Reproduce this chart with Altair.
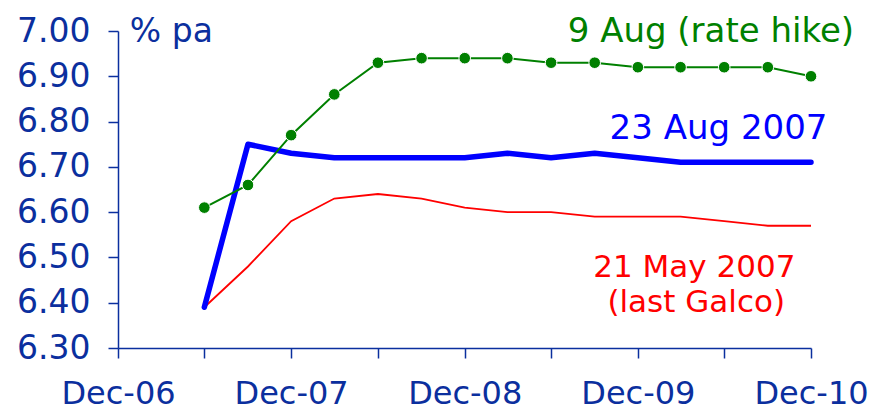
import altair as alt
import pandas as pd

# quarterly dates of the curves
dates = ["2007-06-01", "2007-09-01", "2007-12-01", "2008-03-01", "2008-06-01",
         "2008-09-01", "2008-12-01", "2009-03-01", "2009-06-01", "2009-09-01",
         "2009-12-01", "2010-03-01", "2010-06-01", "2010-09-01", "2010-12-01"]
aug9 = [6.61, 6.66, 6.77, 6.86, 6.93, 6.94, 6.94, 6.94, 6.93, 6.93, 6.92, 6.92, 6.92, 6.92, 6.90]
aug23 = [6.39, 6.75, 6.73, 6.72, 6.72, 6.72, 6.72, 6.73, 6.72, 6.73, 6.72, 6.71, 6.71, 6.71, 6.71]
may21 = [6.39, 6.48, 6.58, 6.63, 6.64, 6.63, 6.61, 6.60, 6.60, 6.59, 6.59, 6.59, 6.58, 6.57, 6.57]

tick_dates = ["2006-12-01", "2007-06-01", "2007-12-01", "2008-06-01", "2008-12-01",
              "2009-06-01", "2009-12-01", "2010-06-01", "2010-12-01"]
y_ticks = [6.3, 6.4, 6.5, 6.6, 6.7, 6.8, 6.9, 7.0]

NAVY = "#0b2f9e"
FONT = "DejaVu Sans"

df = pd.DataFrame({"date": dates, "aug9": aug9, "aug23": aug23, "may21": may21})
tick_ms = [int(pd.Timestamp(d, tz="UTC").value // 10**6) for d in tick_dates]

xscale = alt.Scale(type="utc", domain=["2006-12-01", "2010-12-01"])
yscale = alt.Scale(domain=[6.3, 7.0], zero=False, nice=False)

xaxis = alt.Axis(values=tick_ms, labelExpr="utcmonth(datum.value) == 11 ? utcFormat(datum.value, '%b-%y') : ''",
                 grid=False, domainColor=NAVY, domainWidth=1.5, tickColor=NAVY, tickWidth=1.5,
                 tickSize=10, labelColor=NAVY, labelFont=FONT, labelFontSize=32, labelPadding=20,
                 title=None, labelFlush=False, labelOverlap=False)
yaxis = alt.Axis(values=y_ticks, format=".2f", grid=False, domainColor=NAVY, domainWidth=1.5,
                 tickColor=NAVY, tickWidth=1.5, tickSize=10, labelColor=NAVY, labelFont=FONT,
                 labelFontSize=33, labelPadding=18, title=None, labelFlush=False)

base = alt.Chart(df)
red = base.mark_line(color="#ff0000", strokeWidth=1.8).encode(
    x=alt.X("date:T", scale=xscale, axis=xaxis), y=alt.Y("may21:Q", scale=yscale, axis=yaxis))
blue = base.mark_line(color="#0000ff", strokeWidth=5.5, strokeCap="round", strokeJoin="round").encode(
    x=alt.X("date:T", scale=xscale), y=alt.Y("aug23:Q", scale=yscale))
green = base.mark_line(color="#008000", strokeWidth=2,
                       point=alt.OverlayMarkDef(color="#008000", size=135, filled=True, opacity=1,
                                                stroke="white", strokeWidth=1)).encode(
    x=alt.X("date:T", scale=xscale), y=alt.Y("aug9:Q", scale=yscale))

labels = pd.DataFrame({
    "date": ["2006-12-26", "2010-05-04", "2010-05-20", "2010-03-30", "2010-04-03"],
    "y": [6.976, 6.976, 6.7615, 6.4568, 6.3795],
    "text": ["% pa", "9 Aug (rate hike)", "23 Aug 2007", "21 May 2007", "(last Galco)"],
    "color": [NAVY, "#008000", "#0000ff", "#ff0000", "#ff0000"],
    "size": [33, 34, 34, 31, 31],
    "align": ["left", "center", "center", "center", "center"],
})
txt_left = alt.Chart(labels[labels["align"] == "left"]).mark_text(
    font=FONT, align="left", baseline="alphabetic").encode(
    x=alt.X("date:T", scale=xscale), y=alt.Y("y:Q", scale=yscale),
    text="text:N", color=alt.Color("color:N", scale=None), size=alt.Size("size:Q", scale=None))
txt_center = alt.Chart(labels[labels["align"] == "center"]).mark_text(
    font=FONT, align="center", baseline="alphabetic").encode(
    x=alt.X("date:T", scale=xscale), y=alt.Y("y:Q", scale=yscale),
    text="text:N", color=alt.Color("color:N", scale=None), size=alt.Size("size:Q", scale=None))

chart = alt.layer(red, blue, green, txt_left, txt_center).properties(
    width=693, height=317,
    autosize=alt.AutoSizeParams(type="none"),
    padding={"left": 110, "top": 23, "right": 57, "bottom": 59},
    background="white",
).configure_view(stroke=None)

chart.save("out.html", embed_options={"renderer": "svg", "actions": False})
